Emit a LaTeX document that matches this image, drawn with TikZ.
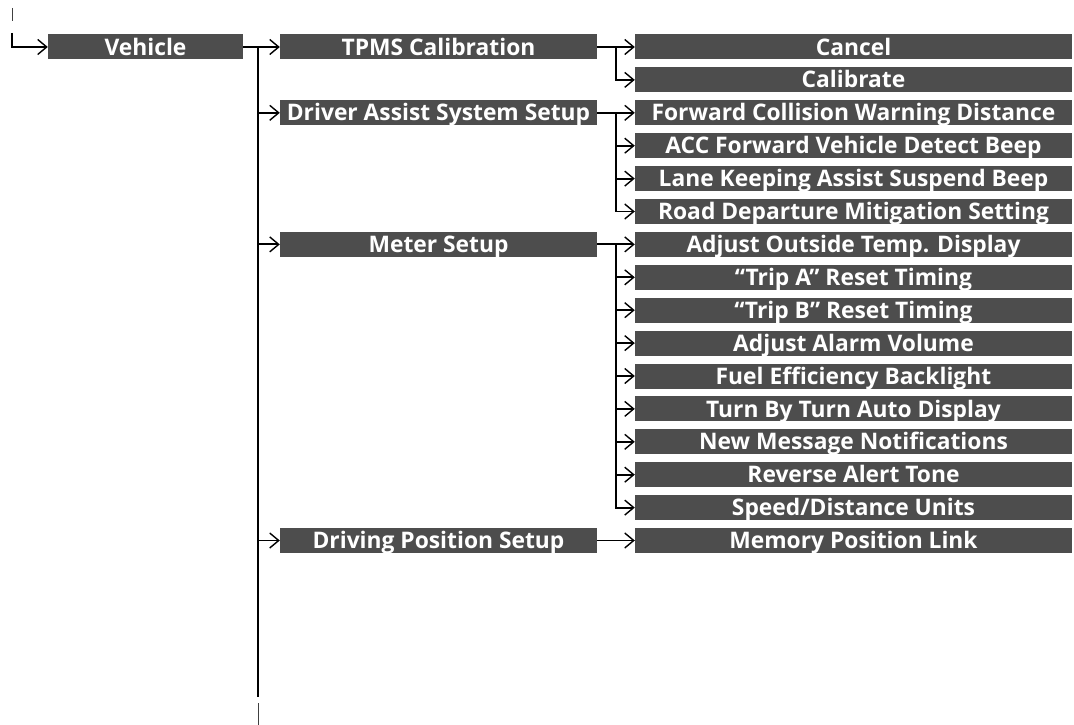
\documentclass[tikz,border=0pt]{standalone}
\usepackage{fontspec}
\setmainfont{Open Sans}
\usetikzlibrary{arrows.meta}
\begin{document}
\begin{tikzpicture}[x=1pt,y=-1pt,
  box/.style={fill=boxgray,text=white,inner sep=0pt,minimum height=25pt,
    text height=16.2pt,text depth=0pt,
    font=\fontsize{22.8}{22.8}\selectfont\bfseries,anchor=center},
  lone/.style={box,minimum width=195pt},
  ltwo/.style={box,minimum width=317pt},
  lthree/.style={box,minimum width=437pt},
  conn/.style={line width=1.9pt,-{Straight Barb[length=9pt,width=15pt,line width=1.4pt]}},
  trunk/.style={line width=1.9pt},
  cut/.style={line width=1pt,black!75}]
\definecolor{boxgray}{HTML}{4D4D4D}
\useasboundingbox (0,0) rectangle (1074,725);
\def\ry#1{47+32.9*#1}
% level 1
\node[lone] (veh) at (145.5,{\ry{0}}) {Vehicle};
% level 2
\node[ltwo] (tpms) at (438.5,{\ry{0}}) {TPMS Calibration};
\node[ltwo] (das) at (438.5,{\ry{2}}) {Driver Assist System Setup};
\node[ltwo] (meter) at (438.5,{\ry{6}}) {Meter Setup};
\node[ltwo] (dps) at (438.5,{\ry{15}}) {Driving Position Setup};
% level 3
\node[lthree] (cancel) at (853.5,{\ry{0}}) {Cancel};
\node[lthree] (calib) at (853.5,{\ry{1}}) {Calibrate};
\node[lthree] (fcw) at (853.5,{\ry{2}}) {Forward Collision Warning Distance};
\node[lthree] (acc) at (853.5,{\ry{3}}) {ACC Forward Vehicle Detect Beep};
\node[lthree] (lka) at (853.5,{\ry{4}}) {Lane Keeping Assist Suspend Beep};
\node[lthree] (rdm) at (853.5,{\ry{5}}) {Road Departure Mitigation Setting};
\node[lthree] (aot) at (853.5,{\ry{6}}) {Adjust Outside Temp. Display};
\node[lthree] (tripa) at (853.5,{\ry{7}}) {“Trip A” Reset Timing};
\node[lthree] (tripb) at (853.5,{\ry{8}}) {“Trip B” Reset Timing};
\node[lthree] (alarm) at (853.5,{\ry{9}}) {Adjust Alarm Volume};
\node[lthree] (fuel) at (853.5,{\ry{10}}) {Fuel Efficiency Backlight};
\node[lthree] (tbt) at (853.5,{\ry{11}}) {Turn By Turn Auto Display};
\node[lthree] (nmn) at (853.5,{\ry{12}}) {New Message Notifications};
\node[lthree] (rat) at (853.5,{\ry{13}}) {Reverse Alert Tone};
\node[lthree] (sdu) at (853.5,{\ry{14}}) {Speed/Distance Units};
\node[lthree] (mpl) at (853.5,{\ry{15}}) {Memory Position Link};
% entry from above
\coordinate (top1) at (12,8);
\coordinate (top2) at (12,21);
\coordinate (entry) at (12,33);
\draw[cut] (top1) -- (top2);
\draw[conn] (entry) |- (veh.west);
% trunk
\coordinate (trunktop) at (258,{\ry{0}});
\coordinate (trunkbot) at (258,697);
\coordinate (cont1) at (258,703);
\coordinate (cont2) at (258,725);
\draw[trunk] (trunktop) -- (trunkbot);
\draw[cut] (cont1) -- (cont2);
\foreach \c in {tpms,das,meter,dps}
  \draw[conn] (veh.east) -- (trunktop) |- (\c.west);
% level 3 connectors
\foreach \c in {cancel,calib}
  \draw[conn] (tpms.east) -- ++(19,0) |- (\c.west);
\foreach \c in {fcw,acc,lka,rdm}
  \draw[conn] (das.east) -- ++(19,0) |- (\c.west);
\foreach \c in {aot,tripa,tripb,alarm,fuel,tbt,nmn,rat,sdu}
  \draw[conn] (meter.east) -- ++(19,0) |- (\c.west);
\draw[conn] (dps.east) -- (mpl.west);
\end{tikzpicture}
\end{document}
